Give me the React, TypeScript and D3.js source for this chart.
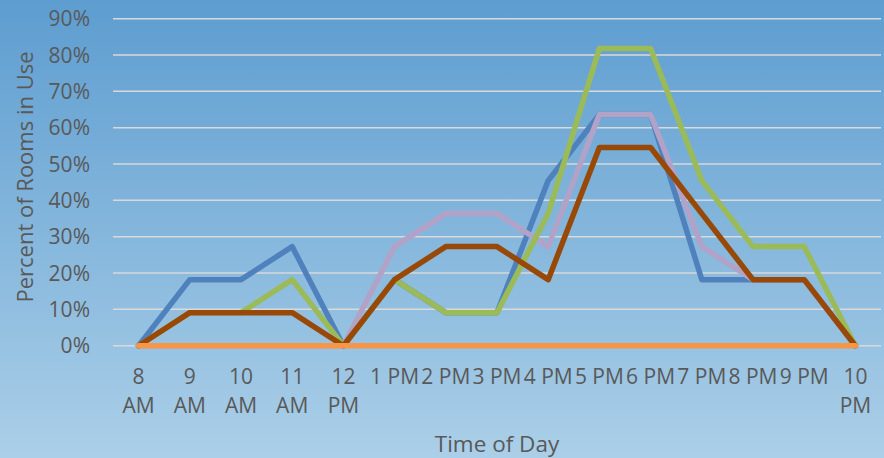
import React from "react";
import * as d3 from "d3";

const categories = ["8 AM", "9 AM", "10 AM", "11 AM", "12 PM", "1 PM", "2 PM", "3 PM", "4 PM", "5 PM", "6 PM", "7 PM", "8 PM", "9 PM", "10 PM"];
const yTicks = [0, 10, 20, 30, 40, 50, 60, 70, 80, 90];

const blueSeries = [0, 18.18, 18.18, 27.27, 0, 18.18, 9.09, 9.09, 45.45, 63.64, 63.64, 18.18, 18.18, 18.18, 0];
const pinkSeries = [0, 0, 0, 0, 0, 27.27, 36.36, 36.36, 27.27, 63.64, 63.64, 27.27, 18.18, 18.18, 0];
const greenSeries = [0, 9.09, 9.09, 18.18, 0, 18.18, 9.09, 9.09, 36.36, 81.82, 81.82, 45.45, 27.27, 27.27, 0];
const brownSeries = [0, 9.09, 9.09, 9.09, 0, 18.18, 27.27, 27.27, 18.18, 54.55, 54.55, 36.36, 18.18, 18.18, 0];
const orangeSeries = [0, 0, 0, 0, 0, 0, 0, 0, 0, 0, 0, 0, 0, 0, 0];

const seriesList = [
  { name: "Blue", values: blueSeries, color: "#4f81bd" },
  { name: "Pink", values: pinkSeries, color: "#b3a2c7" },
  { name: "Green", values: greenSeries, color: "#9bbb59" },
  { name: "Brown", values: brownSeries, color: "#984807" },
  { name: "Orange", values: orangeSeries, color: "#f79646" },
];

const W = 884;
const H = 458;
const plotLeft = 113;
const plotRight = 881;
const plotTop = 18.7;
const plotBottom = 345.7;
const FONT = "'Open Sans', 'DejaVu Sans', sans-serif";
const TEXT = "#595959";

export default function App() {
  const x = d3.scaleBand<string>().domain(categories).range([plotLeft, plotRight]).padding(0);
  const y = d3.scaleLinear().domain([0, 90]).range([plotBottom, plotTop]);
  const cx = (c: string) => (x(c) as number) + x.bandwidth() / 2;

  const line = d3
    .line<number>()
    .x((_, i) => cx(categories[i]))
    .y((d) => y(d));

  const wraps = (label: string) => label.includes("AM") || label.split(" ")[0].length > 1;

  return (
    <svg width={W} height={H} style={{ position: "absolute", left: 0, top: 0 }} fontFamily={FONT}>
      <defs>
        <linearGradient id="bg" x1="0" y1="0" x2="0" y2="1">
          <stop offset="0%" stopColor="#5d9dd0" />
          <stop offset="100%" stopColor="#abcfe8" />
        </linearGradient>
      </defs>
      <rect x={0} y={0} width={W} height={H} fill="url(#bg)" />
      {yTicks.map((t) => (
        <g key={t}>
          <line x1={plotLeft} x2={plotRight} y1={y(t)} y2={y(t)} stroke="#d9d9d9" strokeWidth={1.5} />
          <text x={90} y={y(t) + 7.5} textAnchor="end" fontSize={21} fill={TEXT}>
            {t}%
          </text>
        </g>
      ))}
      {seriesList.map((s) => (
        <path
          key={s.name}
          d={line(s.values) || ""}
          fill="none"
          stroke={s.color}
          strokeWidth={5.5}
          strokeLinejoin="round"
          strokeLinecap="round"
        />
      ))}
      {categories.map((c) => {
        const parts = c.split(" ");
        return wraps(c) ? (
          <text key={c} x={cx(c)} textAnchor="middle" fontSize={21} fill={TEXT}>
            <tspan x={cx(c)} y={plotBottom + 38.5}>{parts[0]}</tspan>
            <tspan x={cx(c)} y={plotBottom + 67.5}>{parts[1]}</tspan>
          </text>
        ) : (
          <text key={c} x={cx(c)} y={plotBottom + 38.5} textAnchor="middle" fontSize={21} fill={TEXT}>
            {c}
          </text>
        );
      })}
      <text x={(plotLeft + plotRight) / 2} y={452} textAnchor="middle" fontSize={22.5} fill={TEXT}>
        Time of Day
      </text>
      <text transform={`translate(33, 177) rotate(-90)`} textAnchor="middle" fontSize={22} fill={TEXT}>
        Percent of Rooms in Use
      </text>
    </svg>
  );
}
